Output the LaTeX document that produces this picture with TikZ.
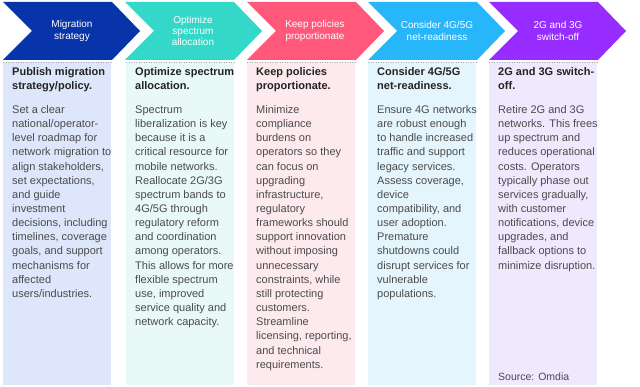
\documentclass[tikz,border=0pt]{standalone}
\usepackage{fontspec}
\setmainfont{Liberation Sans}
\begin{document}
\begin{tikzpicture}[x=1pt,y=-1pt,
  hdr/.style={text=white,align=center,font=\fontsize{10}{11.3}\selectfont,inner sep=0pt},
  body/.style={anchor=north west,align=left,inner sep=0pt,text=bodygray,font=\fontsize{11}{14.15}\selectfont},
  colbox/.style={inner sep=0pt,minimum width=108pt,minimum height=323pt,anchor=north west},
  topdots/.style={draw=gray!70,dotted,line width=0.5pt}]
\definecolor{c1}{RGB}{8,52,170}
\definecolor{c2}{RGB}{52,216,200}
\definecolor{c3}{RGB}{255,88,122}
\definecolor{c4}{RGB}{40,182,250}
\definecolor{c5}{RGB}{150,44,255}
\definecolor{l1}{RGB}{221,230,250}
\definecolor{l2}{RGB}{232,249,248}
\definecolor{l3}{RGB}{253,234,238}
\definecolor{l4}{RGB}{229,245,253}
\definecolor{l5}{RGB}{240,232,253}
\definecolor{headgray}{RGB}{35,35,35}
\definecolor{bodygray}{RGB}{75,75,75}
\useasboundingbox (0,0) rectangle (640,387);
\fill[white] (0,0) rectangle (640,387);
% chevrons
\foreach \xo/\cc/\nm in {3/c1/a,125/c2/b,247/c3/c,368/c4/d,489/c5/e}{
  \fill[\cc] (\xo,2) -- (\xo+109,2) -- (\xo+137,31) -- (\xo+109,60) -- (\xo,60) -- (\xo+29,31) -- cycle;
}
\node[hdr] (h1) at (72,31) {Migration\\strategy};
\node[hdr] (h2) at (193,31) {Optimize\\spectrum\\allocation};
\node[hdr] (h3) at (315,31) {Keep policies\\proportionate};
\node[hdr] (h4) at (437,31) {Consider 4G/5G\\net-readiness};
\node[hdr] (h5) at (558,31) {2G and 3G\\switch-off};
% columns
\node[colbox,fill=l1] (k1) at (3,62) {};
\node[colbox,fill=l2] (k2) at (126,62) {};
\node[colbox,fill=l3] (k3) at (247,62) {};
\node[colbox,fill=l4] (k4) at (368,62) {};
\node[colbox,fill=l5] (k5) at (489,62) {};
\foreach \k in {k1,k2,k3,k4,k5}{\draw[topdots] (\k.north west) -- (\k.north east);}
% texts
\node[body] (t1) at (12,67) {{\color{headgray}\bfseries Publish migration}\\{\color{headgray}\bfseries strategy/policy.}\\[10pt]
Set a clear\\national/operator-\\level roadmap for\\network migration to\\align stakeholders,\\set expectations,\\and guide\\investment\\decisions, including\\timelines, coverage\\goals, and support\\mechanisms for\\affected\\users/industries.};
\node[body] (t2) at (135,67) {{\color{headgray}\bfseries Optimize spectrum}\\{\color{headgray}\bfseries allocation.}\\[10pt]
Spectrum\\liberalization is key\\because it is a\\critical resource for\\mobile networks.\\Reallocate 2G/3G\\spectrum bands to\\4G/5G through\\regulatory reform\\and coordination\\among operators.\\This allows for more\\flexible spectrum\\use, improved\\service quality and\\network capacity.};
\node[body] (t3) at (256,67) {{\color{headgray}\bfseries Keep policies}\\{\color{headgray}\bfseries proportionate.}\\[10pt]
Minimize\\compliance\\burdens on\\operators so they\\can focus on\\upgrading\\infrastructure,\\regulatory\\frameworks should\\support innovation\\without imposing\\unnecessary\\constraints, while\\still protecting\\customers.\\Streamline\\licensing, reporting,\\and technical\\requirements.};
\node[body] (t4) at (377,67) {{\color{headgray}\bfseries Consider 4G/5G}\\{\color{headgray}\bfseries net-readiness.}\\[10pt]
Ensure 4G networks\\are robust enough\\to handle increased\\traffic and support\\legacy services.\\Assess coverage,\\device\\compatibility, and\\user adoption.\\Premature\\shutdowns could\\disrupt services for\\vulnerable\\populations.};
\node[body] (t5) at (498,67) {{\color{headgray}\bfseries 2G and 3G switch-}\\{\color{headgray}\bfseries off.}\\[10pt]
Retire 2G and 3G\\networks. This frees\\up spectrum and\\reduces operational\\costs. Operators\\typically phase out\\services gradually,\\with customer\\notifications, device\\upgrades, and\\fallback options to\\minimize disruption.};
\node[anchor=west,inner sep=0pt,text=bodygray,font=\fontsize{10.5}{12}\selectfont] (src) at (498,377) {Source: Omdia};
\end{tikzpicture}
\end{document}
